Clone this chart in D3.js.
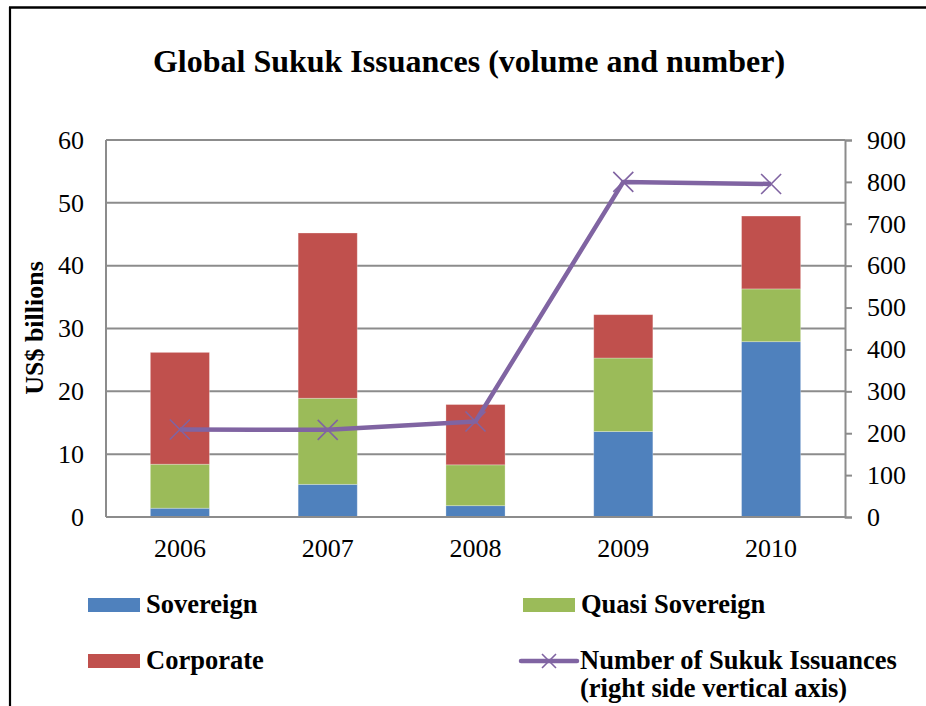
<!DOCTYPE html>
<html>
<head>
<meta charset="utf-8">
<script src="https://cdn.jsdelivr.net/npm/d3@7"></script>
<style>
  html, body { margin: 0; padding: 0; background: #fff; }
  svg { display: block; }
  text { font-family: "Liberation Serif", "Times New Roman", serif; fill: #000; }
</style>
</head>
<body>
<svg id="chart" width="926" height="706"></svg>
<script>
// Issuance volume (US$ billions) by segment, and number of issues
const years = ["2006", "2007", "2008", "2009", "2010"];
const sovereign = [1.4, 5.2, 1.8, 13.6, 27.9];
const quasiSovereign = [7.0, 13.7, 6.5, 11.7, 8.4];
const corporate = [17.8, 26.3, 9.6, 6.9, 11.6];
const issuanceCount = [209, 208, 228, 800, 795];

const leftTicks = [0, 10, 20, 30, 40, 50, 60];
const rightTicks = [0, 100, 200, 300, 400, 500, 600, 700, 800, 900];

const seriesNames = ["Sovereign", "Quasi Sovereign", "Corporate"];
const seriesColors = ["#4F81BD", "#9BBB59", "#C0504D"];
const lineColor = "#8064A2";
const gridColor = "#8C8C8C";
const serif = "'Liberation Serif', 'Times New Roman', serif";

const svg = d3.select("#chart");

// outer frame (left and top edges)
svg.append("line").attr("x1", 10).attr("x2", 10).attr("y1", 7).attr("y2", 706)
  .attr("stroke", "#000").attr("stroke-width", 2.2);
svg.append("line").attr("x1", 9).attr("x2", 926).attr("y1", 7.5).attr("y2", 7.5)
  .attr("stroke", "#000").attr("stroke-width", 2.5);

const plot = { left: 106, right: 845, top: 140, bottom: 517 };

const x = d3.scaleBand().domain(years)
  .range([plot.left, plot.right]).paddingInner(0.6).paddingOuter(0.3);
const y = d3.scaleLinear().domain([0, 60]).range([plot.bottom, plot.top]);
const y2 = d3.scaleLinear().domain([0, 900]).range([plot.bottom, plot.top]);

// title
svg.append("text").attr("x", 469).attr("y", 72).attr("text-anchor", "middle")
  .style("font-size", "32px").style("font-weight", "bold")
  .text("Global Sukuk Issuances (volume and number)");

// horizontal gridlines
svg.append("g").selectAll("line").data(leftTicks.filter(d => d > 0)).join("line")
  .attr("x1", plot.left).attr("x2", plot.right)
  .attr("y1", d => y(d)).attr("y2", d => y(d))
  .attr("stroke", gridColor).attr("stroke-width", 2);

// left axis labels
const leftAxis = d3.axisLeft(y).tickValues(leftTicks).tickSize(0).tickPadding(22);
const gL = svg.append("g").attr("transform", `translate(${plot.left},0)`).call(leftAxis);
gL.select(".domain").remove();
gL.selectAll("text").style("font-size", "26px").style("font-family", serif).attr("fill", "#000");

// stacked bars
const rows = years.map((yr, i) => ({
  year: yr, "Sovereign": sovereign[i], "Quasi Sovereign": quasiSovereign[i], "Corporate": corporate[i]
}));
const stacked = d3.stack().keys(seriesNames)(rows);
svg.append("g").selectAll("g").data(stacked).join("g")
  .attr("fill", (d, i) => seriesColors[i])
  .selectAll("rect").data(d => d).join("rect")
  .attr("x", d => x(d.data.year))
  .attr("width", x.bandwidth())
  .attr("y", d => y(d[1]))
  .attr("height", d => y(d[0]) - y(d[1]))
  .attr("stroke", "#fff").attr("stroke-opacity", 0.35).attr("stroke-width", 0.8);

// left and bottom axis lines
svg.append("line").attr("x1", plot.left).attr("x2", plot.left)
  .attr("y1", plot.top).attr("y2", plot.bottom)
  .attr("stroke", gridColor).attr("stroke-width", 2);
svg.append("line").attr("x1", plot.left).attr("x2", plot.right)
  .attr("y1", plot.bottom).attr("y2", plot.bottom)
  .attr("stroke", gridColor).attr("stroke-width", 2);

// category labels
const bottomAxis = d3.axisBottom(x).tickSize(0).tickPadding(22);
const gB = svg.append("g").attr("transform", `translate(0,${plot.bottom})`).call(bottomAxis);
gB.select(".domain").remove();
gB.selectAll("text").style("font-size", "26px").style("font-family", serif).attr("fill", "#000");

// right axis
const rightAxis = d3.axisRight(y2).tickValues(rightTicks).tickSize(7).tickPadding(15);
const gR = svg.append("g").attr("transform", `translate(${plot.right},0)`).call(rightAxis);
gR.select(".domain").attr("stroke", gridColor).attr("stroke-width", 2);
gR.selectAll(".tick line").attr("stroke", gridColor).attr("stroke-width", 2);
gR.selectAll("text").style("font-size", "26px").style("font-family", serif).attr("fill", "#000");

// number of issuances line
const cx = yr => x(yr) + x.bandwidth() / 2;
const pts = years.map((yr, i) => [cx(yr), y2(issuanceCount[i])]);
svg.append("path").datum(pts)
  .attr("d", d3.line())
  .attr("fill", "none").attr("stroke", lineColor).attr("stroke-width", 4.5)
  .attr("stroke-linejoin", "round");

function crossMark(g, px, py, r) {
  g.append("path")
    .attr("d", `M${px - r},${py - r}L${px + r},${py + r}M${px - r},${py + r}L${px + r},${py - r}`)
    .attr("stroke", lineColor).attr("stroke-width", 1.6).attr("fill", "none");
}
const markers = svg.append("g");
pts.forEach(p => crossMark(markers, p[0], p[1], 10));

// y axis title
svg.append("text").attr("transform", "translate(43,328) rotate(-90)")
  .attr("text-anchor", "middle")
  .style("font-size", "26px").style("font-weight", "bold")
  .text("US$ billions");

// legend
const legend = svg.append("g").style("font-size", "26.5px").style("font-weight", "bold");
const legendItems = [
  { name: "Sovereign", color: seriesColors[0], sx: 88, sy: 598 },
  { name: "Quasi Sovereign", color: seriesColors[1], sx: 523, sy: 598 },
  { name: "Corporate", color: seriesColors[2], sx: 88, sy: 654 }
];
legendItems.forEach(it => {
  legend.append("rect").attr("x", it.sx).attr("y", it.sy).attr("width", 52).attr("height", 14)
    .attr("fill", it.color);
  legend.append("text").attr("x", it.sx + 58).attr("y", it.sy + 15).text(it.name);
});
legend.append("line").attr("x1", 521).attr("x2", 577).attr("y1", 661).attr("y2", 661)
  .attr("stroke", lineColor).attr("stroke-width", 4.5).attr("stroke-linecap", "round");
crossMark(legend, 549, 661, 7);
legend.append("text").attr("x", 580).attr("y", 669).text("Number of Sukuk Issuances");
legend.append("text").attr("x", 580).attr("y", 697).text("(right side vertical axis)");
</script>
</body>
</html>
